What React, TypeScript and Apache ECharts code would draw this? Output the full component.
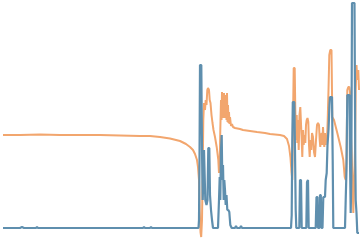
import React, { useEffect, useRef } from "react";
import * as echarts from "echarts";

// orange series: sample times and values
const orangeTimes: number[] = [
  3, 20, 40, 60, 80, 100, 120, 140, 150, 160, 170, 180, 186, 190, 193, 195, 197, 198, 199, 199.7,
  200.5, 201.2, 202, 202.7, 203.3, 204, 205, 205.7, 206.5, 207.3, 208, 209, 209.7, 210.5, 211.5, 212.5,
  213.5, 215, 216.7, 218.3, 219, 219.7, 220.3, 221, 221.5, 222, 222.5, 223, 223.5, 224, 224.5, 225,
  225.5, 226, 226.5, 227, 227.5, 228, 228.5, 229, 229.5, 230, 231, 232, 233, 235, 240, 243, 250, 257,
  265, 270, 275, 280, 284, 287, 289, 290.5, 291.5, 292.3, 293, 293.7, 294.7, 295.3, 296, 296.7, 297.3,
  298, 298.7, 299.5, 300.3, 301, 301.7, 302.3, 303, 303.7, 304.5, 305.3, 306, 306.7, 307.5, 308.3, 309,
  309.7, 310.5, 311.3, 312, 313, 314, 315, 316, 317, 318, 319, 319.7, 320.3, 321, 321.7, 322.3, 323,
  323.7, 324.3, 325, 325.7, 326.3, 327, 327.7, 328.5, 329.3, 330.3, 331.5, 332.3, 334, 337.3, 340.7,
  343.3, 344.7, 345.7, 346.5, 347.3, 348.3, 349.3, 350, 350.7, 351.5, 352.5, 353.3, 354, 355, 355.7,
  356.5, 357.3, 358.3, 359,
];
const orangeValues: number[] = [
  105, 105, 105.5, 105, 105, 105, 104.5, 104, 104, 103, 101.5, 99, 96, 93, 90, 86, 80, 73, 60, 30,
  8, 3, 20, 70, 120, 137, 130, 140, 135, 150, 152, 150, 140, 137, 125, 117,
  110, 103, 93, 80, 67, 75, 110, 140, 120, 148, 125, 146, 122, 147, 124, 145,
  122, 140, 120, 147, 118, 135, 117, 128, 116, 123, 114, 116, 113, 112, 111, 110, 109, 108,
  107, 106, 105.5, 105, 104, 101, 94, 82, 68, 60, 120, 172, 172, 130, 100, 125, 97,
  120, 90, 125, 133, 133, 100, 83, 110, 95, 105, 97, 115, 120, 122, 118, 95,
  83, 100, 90, 107, 103, 88, 83, 100, 115, 117, 115, 100, 93, 105, 107, 95, 113,
  100, 93, 107, 95, 103, 100, 120, 150, 185, 190, 190, 123, 120, 107, 93,
  80, 63, 60, 80, 150, 153, 153, 148, 110, 90, 60, 27, 50, 90, 150,
  175, 160, 170, 150,
];

// blue series: sample times and values
const blueTimes: number[] = [
  3, 20, 22, 24, 36, 37, 38, 60, 100, 143, 144, 145, 150, 151, 152, 198.5, 199, 199.5, 200, 201.3,
  202, 202.7, 203.3, 204, 204.7, 205.3, 206.5, 207.5, 208.3, 209.3, 210, 211, 212, 213, 218, 219,
  219.7, 220.3, 221, 221.7, 222.3, 223, 223.7, 224.3, 225, 225.7, 226.5, 227.3, 228.3, 229.3, 230.3,
  231.7, 235, 236, 237, 240, 241, 242, 291, 291.7, 292.3, 292.8, 294.3, 295, 295.7, 296.3, 299.3, 300,
  301, 301.7, 306.3, 307, 308, 308.7, 315.7, 316.5, 317.5, 318, 319.5, 320, 320.8, 321.5, 322.5, 323.3,
  325, 325.7, 326.7, 327.5, 328.5, 329.5, 330, 332, 332.7, 333.3, 345, 345.7, 346.5, 347.3, 349.5, 350,
  350.7, 351.3, 352, 354.5, 355.3, 355.7, 356.5, 357.3, 359,
];
const blueValues: number[] = [
  12, 12, 13, 12, 12, 13, 12, 12, 12, 12, 13, 12, 12, 13, 12, 12, 20, 80, 175, 175,
  90, 40, 60, 90, 90, 40, 35, 40, 92, 92, 45, 30, 20, 12, 12, 40,
  63, 40, 90, 105, 60, 75, 40, 60, 50, 35, 45, 30, 30, 28, 15,
  12, 12, 14, 12, 12, 14, 12, 12, 25, 100, 138, 138, 90, 30, 12, 12, 60,
  60, 12, 12, 58, 60, 12, 12, 43, 43, 12, 12, 45, 45, 12, 12, 43,
  43, 60, 67, 95, 110, 135, 143, 143, 80, 12, 12, 40, 70, 145, 145, 80,
  27, 60, 237, 237, 80, 40, 27, 7, 7,
];

export default function App() {
  const ref = useRef<HTMLDivElement>(null);
  useEffect(() => {
    if (!ref.current) return;
    const chart = echarts.init(ref.current, undefined, { renderer: "svg" });
    const orangeData = orangeTimes.map((t, i) => [t, orangeValues[i]]);
    const blueData = blueTimes.map((t, i) => [t, blueValues[i]]);
    chart.setOption({
      animation: false,
      grid: { left: 0, right: 0, top: 0, bottom: 0 },
      xAxis: { type: "value", min: 0, max: 360, show: false },
      yAxis: { type: "value", min: 0, max: 240, show: false },
      series: [
        {
          type: "line",
          data: orangeData,
          symbol: "none",
          lineStyle: { color: "#f2a66e", width: 2 },
          z: 1,
        },
        {
          type: "line",
          data: blueData,
          symbol: "none",
          lineStyle: { color: "#5f8fae", width: 2.2 },
          z: 2,
        },
      ],
    });
    return () => chart.dispose();
  }, []);
  return (
    <div
      ref={ref}
      style={{ position: "fixed", left: 0, top: 0, width: 360, height: 240, background: "#fff" }}
    />
  );
}
